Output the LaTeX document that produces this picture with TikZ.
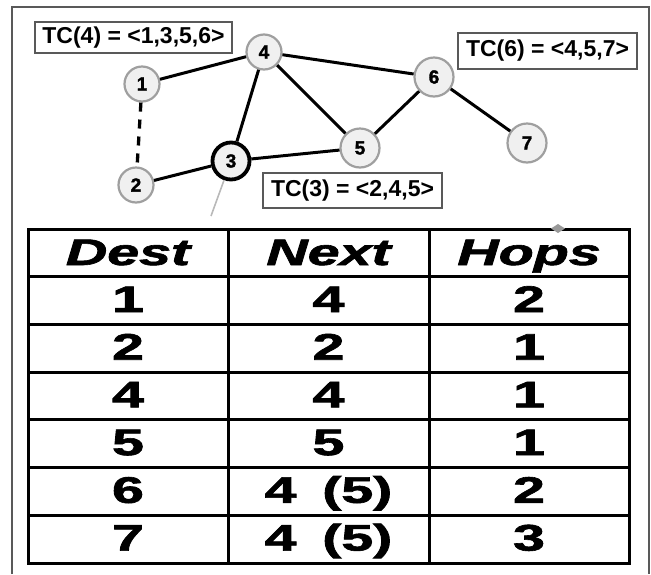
\documentclass[tikz,border=0pt]{standalone}
\usepackage{fontspec}
\usepackage{graphicx}
\setmainfont{Liberation Sans}
\newfontfamily\heavyfont[BoldFeatures={FakeBold=1.6},BoldItalicFeatures={FakeBold=1.6}]{Liberation Sans}
\newcommand\widetext[1]{\scalebox{1.55}[1]{#1}}
\begin{document}
\begin{tikzpicture}[x=1pt,y=-1pt,
  vtx/.style={circle, draw=gray!75, fill=gray!12, line width=2.2pt, minimum size=35pt, inner sep=0pt, font=\fontsize{19}{19}\selectfont\heavyfont\bfseries},
  vtxbig/.style={vtx, minimum size=39pt},
  vtxcur/.style={vtx, draw=black, line width=3.8pt, minimum size=37pt},
  edge/.style={line width=3pt, black},
  tc/.style={draw=black!65, line width=2pt, inner sep=0pt, font=\fontsize{23}{23}\selectfont\bfseries},
  hdr/.style={anchor=base, font=\fontsize{37}{37}\selectfont\heavyfont\bfseries\itshape},
  cell/.style={anchor=base, font=\fontsize{37}{37}\selectfont\heavyfont\bfseries},
  gridline/.style={line width=3pt, black}]
\useasboundingbox (0,0) rectangle (651,574);
% outer frame
\draw[black!65, line width=1.3pt] (12,574) -- (12,7) -- (649,7) -- (649,574);

% graph
\node[vtx] (n1) at (142,84) {1};
\node[vtx] (n2) at (136,185) {2};
\node[vtxcur] (n3) at (231,161) {3};
\node[vtx] (n4) at (264,52) {4};
\node[vtxbig] (n5) at (360,148) {5};
\node[vtxbig] (n6) at (434,77) {6};
\node[vtxbig] (n7) at (527,143) {7};
\coordinate (g) at (211,216);

\draw[edge] (n1) -- (n4);
\draw[edge] (n4) -- (n6);
\draw[edge] (n4) -- (n3);
\draw[edge] (n4) -- (n5);
\draw[edge] (n3) -- (n5);
\draw[edge] (n6) -- (n5);
\draw[edge] (n6) -- (n7);
\draw[edge] (n2) -- (n3);
\draw[edge, line width=3.3pt, dash pattern=on 9pt off 8pt] (n1) -- (n2);
\draw[gray!55, line width=1.6pt] (n3) -- (g);

% TC labels
\node[tc, minimum width=197pt, minimum height=31pt] (tc4) at (133.5,37.5) {TC(4) = <1,3,5,6>};
\node[tc, minimum width=179pt, minimum height=36pt] (tc6) at (547.5,51) {TC(6) = <4,5,7>};
\node[tc, minimum width=179pt, minimum height=35pt] (tc3) at (352.5,190.5) {TC(3) = <2,4,5>};

% table grid
\draw[gridline] (28,229) rectangle (629,563);
\foreach \k in {1,...,6} {
  \draw[gridline] (28,{229+47.71*\k}) -- (629,{229+47.71*\k});
}
\draw[gridline] (228,229) -- (228,563);
\draw[gridline] (429,229) -- (429,563);

% header
\node[hdr] (hd) at (128,265) {\widetext{Dest}};
\node[hdr] (hn) at (328.5,265) {\widetext{Next}};
\node[hdr] (hh) at (529,265) {\widetext{Hops}};

% rows
\foreach \d/\n/\h [count=\i] in {1/4/2, 2/2/1, 4/4/1, 5/5/1, 6/{4\hspace{0.45em}(5)}/2, 7/{4\hspace{0.45em}(5)}/3} {
  \node[cell] (d\i) at (128,{312+47.71*(\i-1)}) {\widetext{\d}};
  \node[cell] (x\i) at (328.5,{312+47.71*(\i-1)}) {\widetext{\n}};
  \node[cell] (h\i) at (529,{312+47.71*(\i-1)}) {\widetext{\h}};
}

% small grey marker on the table edge
\fill[gray!80] (551,228.5) -- (558,224) -- (565,228.5) -- (558,233) -- cycle;
\end{tikzpicture}
\end{document}
